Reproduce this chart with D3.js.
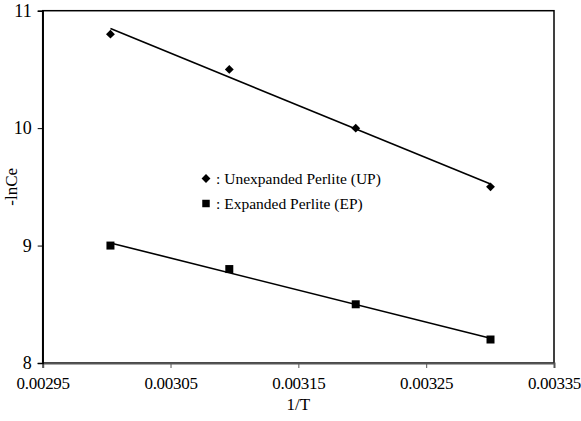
<!DOCTYPE html>
<html lang="en">
<head>
    <meta charset="UTF-8">
    <script src="https://d3js.org/d3.v7.min.js"></script>
    <title>-lnCe vs 1/T</title>
    <style>
        body { margin: 0; background: #fff; }
    </style>
</head>
<body>
    <script>
        // 1/T for T = 333, 323, 313, 303 K
        var invT = [1 / 333, 1 / 323, 1 / 313, 1 / 303]
        var upValues = [10.8, 10.5, 10.0, 9.5]   // Unexpanded Perlite
        var epValues = [9.0, 8.8, 8.5, 8.2]      // Expanded Perlite
        var xTicks = [0.00295, 0.00305, 0.00315, 0.00325, 0.00335]
        var yTicks = [8, 9, 10, 11]
        var legendLabels = [": Unexpanded Perlite (UP)", ": Expanded Perlite (EP)"]

        var serif = "'Liberation Serif', 'Times New Roman', Times, serif"
        var width = 581
        var height = 421
        var padding = { top: 10.7, right: 27, bottom: 58, left: 42.7 }

        var svg = d3.select("body").append("svg")
            .attr("width", width)
            .attr("height", height)
            .attr("font-family", serif)

        var xScale = d3.scaleLinear()
            .domain([0.00295, 0.00335])
            .range([padding.left, width - padding.right])

        var yScale = d3.scaleLinear()
            .domain([8, 11])
            .range([height - padding.bottom, padding.top])

        // frame
        svg.append("rect")
            .attr("x", xScale(0.00295))
            .attr("y", yScale(11))
            .attr("width", xScale(0.00335) - xScale(0.00295))
            .attr("height", yScale(8) - yScale(11))
            .attr("fill", "none")
            .attr("stroke", "#000")
            .attr("stroke-width", 1.5)

        var xAxis = d3.axisBottom(xScale)
            .tickValues(xTicks)
            .tickFormat(d3.format(".5f"))
            .tickSize(5)
            .tickPadding(9)

        var yAxis = d3.axisLeft(yScale)
            .tickValues(yTicks)
            .tickFormat(d3.format("d"))
            .tickSize(5)
            .tickPadding(6)

        var xAxisG = svg.append("g")
            .attr("transform", "translate(0," + yScale(8) + ")")
            .call(xAxis)
            .attr("font-family", serif)
            .attr("font-size", 17)
        xAxisG.select(".domain").attr("stroke", "#555").attr("stroke-width", 2)
        xAxisG.selectAll(".tick line").attr("stroke", "#555")
        xAxisG.selectAll(".tick text").attr("fill", "#000").style("letter-spacing", "-0.3px")

        var yAxisG = svg.append("g")
            .attr("transform", "translate(" + xScale(0.00295) + ",0)")
            .call(yAxis)
            .attr("font-family", serif)
            .attr("font-size", 18)
        yAxisG.select(".domain").attr("stroke", "#000").attr("stroke-width", 1.5)
        yAxisG.selectAll(".tick text").attr("fill", "#000")

        // axis titles
        svg.append("text")
            .attr("x", xScale(0.00315))
            .attr("y", 410)
            .attr("text-anchor", "middle")
            .attr("font-size", 17)
            .text("1/T")

        svg.append("text")
            .attr("transform", "translate(17," + yScale(9.5) + ") rotate(-90)")
            .attr("text-anchor", "middle")
            .attr("font-size", 17)
            .text("-lnCe")

        // least-squares trend line
        function fit(xs, ys) {
            var mx = d3.mean(xs), my = d3.mean(ys)
            var sxy = d3.sum(xs, function (x, i) { return (x - mx) * (ys[i] - my) })
            var sxx = d3.sum(xs, function (x) { return (x - mx) * (x - mx) })
            var b = sxy / sxx
            return function (x) { return my + b * (x - mx) }
        }

        function drawSeries(values, symbol, size) {
            var f = fit(invT, values)
            var x0 = d3.min(invT), x1 = d3.max(invT)
            svg.append("line")
                .attr("x1", xScale(x0)).attr("y1", yScale(f(x0)))
                .attr("x2", xScale(x1)).attr("y2", yScale(f(x1)))
                .attr("stroke", "#000")
                .attr("stroke-width", 1.6)

            svg.selectAll(null)
                .data(values)
                .enter()
                .append("path")
                .attr("d", d3.symbol().type(symbol).size(size))
                .attr("transform", function (d, i) {
                    return "translate(" + xScale(invT[i]) + "," + yScale(d) + ")"
                })
                .attr("fill", "#000")
        }

        drawSeries(upValues, d3.symbolDiamond2, 50)
        drawSeries(epValues, d3.symbolSquare, 64)

        // legend
        var legend = svg.append("g")
        var legendSymbols = [[d3.symbolDiamond2, 50], [d3.symbolSquare, 56]]
        legendLabels.forEach(function (label, i) {
            var y = 178.5 + i * 25
            legend.append("path")
                .attr("d", d3.symbol().type(legendSymbols[i][0]).size(legendSymbols[i][1]))
                .attr("transform", "translate(206," + y + ")")
                .attr("fill", "#000")
            legend.append("text")
                .attr("x", 216)
                .attr("y", y + 5)
                .attr("font-size", 15.5)
                .text(label)
        })
    </script>
</body>
</html>
